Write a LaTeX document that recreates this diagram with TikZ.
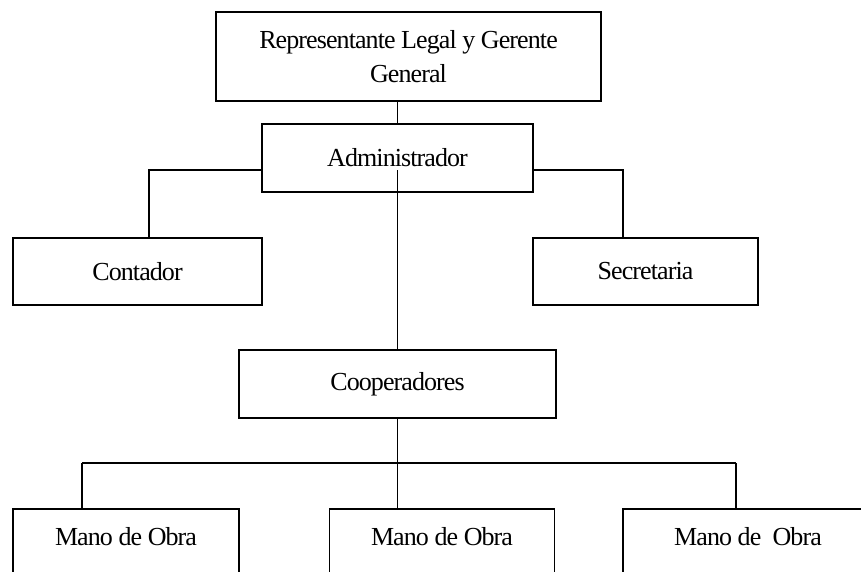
\documentclass[tikz,border=0pt]{standalone}
\usepackage{fontspec}
\setmainfont{Liberation Serif}[LetterSpace=-3.5]
\begin{document}
\begin{tikzpicture}[x=1pt,y=-1pt,
  box/.style={draw, line width=1.8pt, rectangle, inner sep=0pt, font=\fontsize{26}{34}\selectfont},
  conn/.style={line width=1.6pt}]
\useasboundingbox (0,0) rectangle (861,571);
\clip (0,0) rectangle (861,571);
% boxes
\node[box, minimum width=385, minimum height=89, align=center] (rep) at (408.5,56.5) {Representante Legal y Gerente\\General};
\node[box, minimum width=271, minimum height=68] (adm) at (397.5,158) {Administrador};
\node[box, minimum width=249, minimum height=67] (cont) at (137.5,271.5) {Contador};
\node[box, minimum width=225, minimum height=67] (sec) at (645.5,271.5) {Secretaria};
\node[box, minimum width=317, minimum height=68] (coop) at (397.5,384) {Cooperadores};
\node[box, minimum width=226, text height=37pt, text depth=70pt, anchor=north] (m1) at (126,508) {Mano de Obra};
\node[box, minimum width=225, text height=37pt, text depth=70pt, anchor=north] (m2) at (442,508) {Mano de Obra};
\node[box, minimum width=250, text height=37pt, text depth=70pt, anchor=north] (m3) at (748,508) {Mano de~ Obra};
% helper coordinates
\coordinate (aL) at (262,170);
\coordinate (aR) at (533,170);
\coordinate (aM) at (397.5,170);
\coordinate (cL) at (149,238);
\coordinate (cR) at (623,238);
\coordinate (hM) at (397.5,463);
\coordinate (h1) at (82,463);
\coordinate (h3) at (736,463);
\coordinate (t1) at (82,508);
\coordinate (t2) at (397.5,508);
\coordinate (t3) at (736,508);
% connectors
\draw[conn] (rep.south -| adm.north) -- (adm.north);
\draw[conn] (aL) -| (cL);
\draw[conn] (aR) -| (cR);
\draw[conn] (aM) -- (coop.north);
\draw[conn] (coop.south) -- (hM);
\draw[conn] (h1) -- (h3);
\draw[conn] (h1) -- (t1);
\draw[conn] (hM) -- (t2);
\draw[conn] (h3) -- (t3);
\end{tikzpicture}
\end{document}
